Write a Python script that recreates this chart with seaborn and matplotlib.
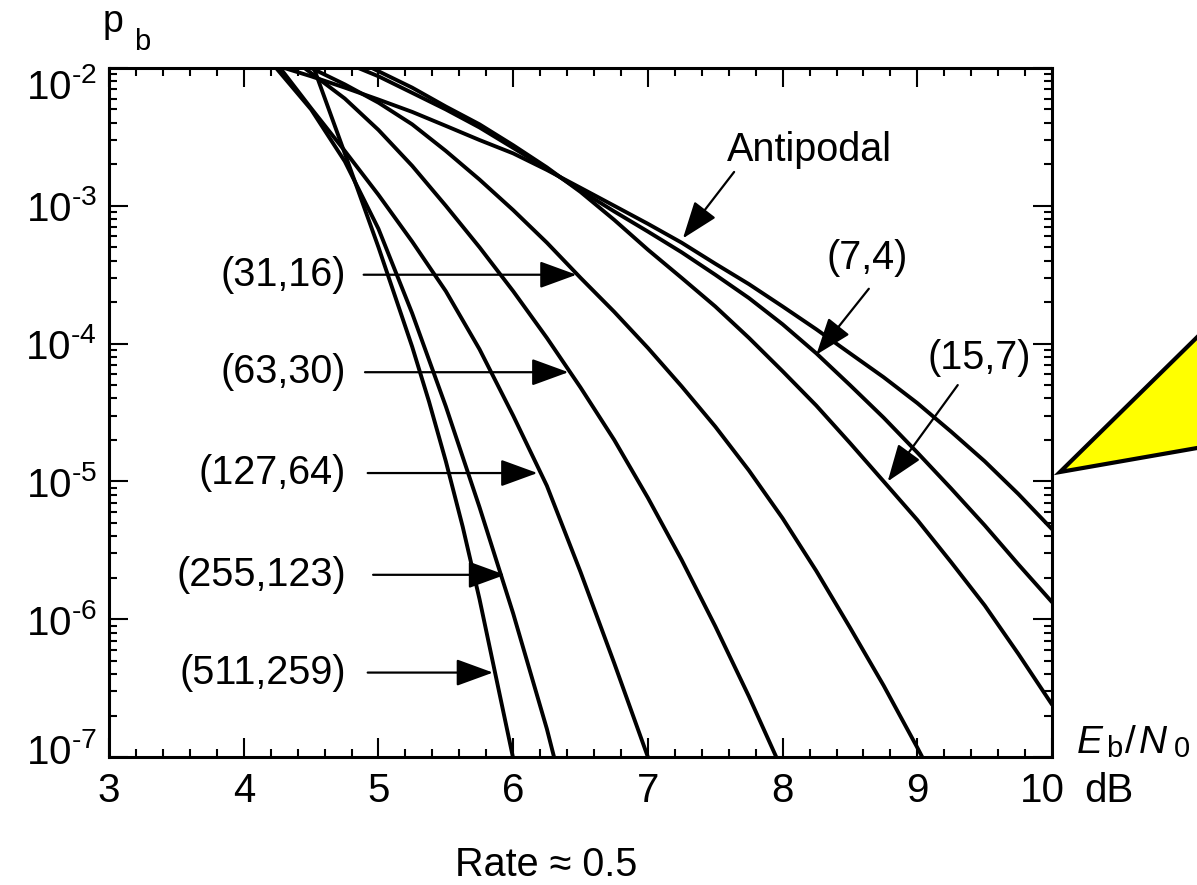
import numpy as np
import pandas as pd
import matplotlib
matplotlib.use('Agg')
import matplotlib.pyplot as plt
import matplotlib.transforms as mtransforms
from matplotlib.patches import Polygon
from matplotlib.ticker import LogLocator, NullFormatter, MultipleLocator
import seaborn as sns

sns.set_style('ticks')
plt.rcParams['font.family'] = ['Liberation Sans', 'DejaVu Sans']
plt.rcParams['mathtext.fontset'] = 'custom'
plt.rcParams['mathtext.rm'] = 'Liberation Sans'
plt.rcParams['mathtext.it'] = 'Liberation Sans:italic'
plt.rcParams['mathtext.default'] = 'regular'
plt.rcParams['text.color'] = 'black'
plt.rcParams['xtick.color'] = 'black'
plt.rcParams['ytick.color'] = 'black'

# Eb/N0 (dB) and bit error probability
antipodal_x = [4.3, 4.5, 4.75, 5.0, 5.25, 5.5, 5.75, 6.0, 6.25, 6.5, 6.75, 7.0,
               7.25, 7.5, 7.75, 8.0, 8.25, 8.5, 8.75, 9.0, 9.25, 9.5, 9.75, 10.0]
antipodal_pb = [1.0e-2, 8.7e-3, 7.2e-3, 5.9e-3, 4.8e-3, 3.8e-3, 3.0e-3, 2.4e-3,
                1.82e-3, 1.35e-3, 1.0e-3, 7.4e-4, 5.4e-4, 3.8e-4, 2.7e-4, 1.86e-4,
                1.27e-4, 8.5e-5, 5.7e-5, 3.7e-5, 2.3e-5, 1.4e-5, 8.1e-6, 4.5e-6]

c7_x = [4.85, 5.0, 5.25, 5.5, 5.75, 6.0, 6.25, 6.5, 6.75, 7.0, 7.25, 7.5,
        7.75, 8.0, 8.25, 8.5, 8.75, 9.0, 9.25, 9.5, 9.75, 10.0]
c7_pb = [1.0e-2, 8.7e-3, 6.6e-3, 5.0e-3, 3.7e-3, 2.63e-3, 1.86e-3, 1.29e-3,
         9.1e-4, 6.5e-4, 4.6e-4, 3.16e-4, 2.14e-4, 1.38e-4, 8.5e-5, 5.0e-5,
         2.9e-5, 1.62e-5, 8.9e-6, 4.8e-6, 2.5e-6, 1.33e-6]

c15_x = [4.95, 5.25, 5.5, 5.75, 6.0, 6.25, 6.5, 6.75, 7.0, 7.25, 7.5, 7.75,
         8.0, 8.25, 8.5, 8.75, 9.0, 9.25, 9.5, 9.75, 10.0]
c15_pb = [1.0e-2, 7.2e-3, 5.25e-3, 3.9e-3, 2.75e-3, 1.9e-3, 1.26e-3, 7.9e-4,
          4.8e-4, 3.0e-4, 1.86e-4, 1.1e-4, 6.3e-5, 3.55e-5, 1.9e-5, 1.0e-5,
          5.25e-6, 2.6e-6, 1.26e-6, 5.6e-7, 2.4e-7]

c31_x = [4.5, 4.75, 5.0, 5.25, 5.5, 5.75, 6.0, 6.25, 6.5, 6.75, 7.0, 7.25,
         7.5, 7.75, 8.0, 8.25, 8.5, 8.75, 9.0, 9.1]
c31_pb = [1.0e-2, 7.6e-3, 5.6e-3, 3.9e-3, 2.5e-3, 1.55e-3, 9.3e-4, 5.4e-4,
          3.0e-4, 1.7e-4, 9.3e-5, 4.9e-5, 2.5e-5, 1.2e-5, 5.4e-6, 2.24e-6,
          8.7e-7, 3.3e-7, 1.17e-7, 7.6e-8]

c63_x = [4.45, 4.75, 5.0, 5.25, 5.5, 5.75, 6.0, 6.25, 6.5, 6.75, 7.0, 7.25,
         7.5, 7.75, 8.0]
c63_pb = [1.0e-2, 6.0e-3, 3.55e-3, 1.95e-3, 1.0e-3, 5.0e-4, 2.4e-4, 1.1e-4,
          4.8e-5, 2.0e-5, 7.6e-6, 2.7e-6, 8.9e-7, 2.75e-7, 7.9e-8]

c127_x = [4.27, 4.5, 4.75, 5.0, 5.25, 5.5, 5.75, 6.0, 6.25, 6.5, 6.75, 7.0, 7.03]
c127_pb = [1.0e-2, 5.1e-3, 2.5e-3, 1.2e-3, 5.5e-4, 2.4e-4, 9.1e-5, 3.0e-5,
           9.3e-6, 2.2e-6, 4.8e-7, 1.0e-7, 7.9e-8]

c255_x = [4.24, 4.5, 4.75, 5.0, 5.25, 5.5, 5.75, 6.0, 6.25, 6.33]
c255_pb = [1.0e-2, 5.0e-3, 2.1e-3, 6.8e-4, 1.66e-4, 3.5e-5, 6.5e-6, 1.1e-6,
           1.6e-7, 7.9e-8]

c511_x = [4.52, 4.75, 5.0, 5.25, 5.375, 5.5, 5.625, 5.75, 5.875, 6.02]
c511_pb = [1.0e-2, 2.4e-3, 5.0e-4, 9.5e-5, 3.8e-5, 1.4e-5, 4.7e-6, 1.4e-6,
           3.7e-7, 7.9e-8]

curve_names = ['Antipodal', '(7,4)', '(15,7)', '(31,16)', '(63,30)',
               '(127,64)', '(255,123)', '(511,259)']
curve_x = [antipodal_x, c7_x, c15_x, c31_x, c63_x, c127_x, c255_x, c511_x]
curve_pb = [antipodal_pb, c7_pb, c15_pb, c31_pb, c63_pb, c127_pb, c255_pb, c511_pb]

# left-hand labels: text, arrow level, arrow tail x, arrow tip x
left_labels = ['(31,16)', '(63,30)', '(127,64)', '(255,123)', '(511,259)']
left_level = [3.16e-4, 6.2e-5, 1.15e-5, 2.1e-6, 4.1e-7]
left_tail = [4.89, 4.90, 4.92, 4.96, 4.92]
left_tip = [6.47, 6.41, 6.18, 5.94, 5.85]

# right-hand labels: text, text pos, arrow tail, arrow tip
right_labels = ['Antipodal', '(7,4)', '(15,7)']
right_text_xy = [(8.2, 2.54e-3), (8.63, 4.2e-4), (9.46, 7.9e-5)]
right_tail = [(7.64, 1.76e-3), (8.64, 2.5e-4), (9.30, 5.0e-5)]
right_tip = [(7.26, 5.8e-4), (8.25, 8.3e-5), (8.78, 1.0e-5)]

ytick_vals = [1e-7, 1e-6, 1e-5, 1e-4, 1e-3, 1e-2]
ytick_labels = [r'$10^{\text{-}7}$', r'$10^{\text{-}6}$', r'$10^{\text{-}5}$',
                r'$10^{\text{-}4}$', r'$10^{\text{-}3}$', r'$10^{\text{-}2}$']
xtick_vals = [3, 4, 5, 6, 7, 8, 9, 10]

df = pd.concat([pd.DataFrame({'code': n, 'ebn0': x, 'pb': y})
                for n, x, y in zip(curve_names, curve_x, curve_pb)],
               ignore_index=True)

fig = plt.figure(figsize=(11.97, 8.85), dpi=100)
ax = fig.add_axes([0.0911, 0.1446, 0.7878, 0.7786])

sns.lineplot(data=df, x='ebn0', y='pb', hue='code', palette=['black'] * len(curve_names),
             estimator=None, sort=False, legend=False, lw=2.8, ax=ax)

ax.set_yscale('log')
ax.set_xlim(3, 10)
ax.set_ylim(1e-7, 1e-2)
ax.set_xlabel('')
ax.set_ylabel('')

ax.set_xticks(xtick_vals)
ax.set_xticklabels([str(v) for v in xtick_vals])
ax.xaxis.set_minor_locator(MultipleLocator(0.2))
ax.set_yticks(ytick_vals)
ax.set_yticklabels(ytick_labels)
ax.yaxis.set_minor_locator(LogLocator(base=10, subs=np.arange(2, 10) * 1.0, numticks=20))
ax.yaxis.set_minor_formatter(NullFormatter())

ax.tick_params(which='both', direction='in', top=True, right=True, width=1.5, color='black')
ax.tick_params(which='major', length=14)
ax.tick_params(which='minor', length=6)
ax.tick_params(axis='x', labelsize=29, pad=11)
ax.tick_params(axis='y', labelsize=29, pad=9)
for s in ax.spines.values():
    s.set_linewidth(2.2)
    s.set_color('black')

# nudge end labels like in the original
yt = ax.yaxis.get_major_ticks()
yt[-1].label1.set_transform(yt[-1].label1.get_transform() +
                            mtransforms.ScaledTranslation(0, -0.16, fig.dpi_scale_trans))
yt[0].label1.set_transform(yt[0].label1.get_transform() +
                           mtransforms.ScaledTranslation(0, 0.09, fig.dpi_scale_trans))
xt = ax.xaxis.get_major_ticks()
xt[-1].label1.set_transform(xt[-1].label1.get_transform() +
                            mtransforms.ScaledTranslation(-0.10, 0, fig.dpi_scale_trans))

arrow_style = '-|>,head_length=1.15,head_width=0.42'
for lab, lev, t0, t1 in zip(left_labels, left_level, left_tail, left_tip):
    ax.text(4.76, lev, lab, ha='right', va='center', fontsize=28.5)
    ax.annotate('', xy=(t1, lev), xytext=(t0, lev),
                arrowprops=dict(arrowstyle=arrow_style, color='black', lw=1.6,
                                shrinkA=0, shrinkB=0, mutation_scale=20))

for lab, txy, tail, tip in zip(right_labels, right_text_xy, right_tail, right_tip):
    ax.text(txy[0], txy[1], lab, ha='center', va='center', fontsize=28.5)
    ax.annotate('', xy=tip, xytext=tail,
                arrowprops=dict(arrowstyle=arrow_style, color='black', lw=1.6,
                                shrinkA=0, shrinkB=0, mutation_scale=20))

# axis captions
fig.text(103 / 1197, 1 - 32 / 885, 'p', fontsize=27, va='baseline', ha='left')
fig.text(134 / 1197, 1 - 50 / 885, 'b', fontsize=21, va='baseline', ha='left')
fig.text(1077 / 1197, 1 - 753 / 885, 'E', fontsize=28, style='italic', va='baseline', ha='left')
fig.text(1106 / 1197, 1 - 757 / 885, 'b', fontsize=21, va='baseline', ha='left')
fig.text(1125 / 1197, 1 - 753 / 885, '/', fontsize=28, va='baseline', ha='left')
fig.text(1139 / 1197, 1 - 753 / 885, 'N', fontsize=28, style='italic', va='baseline', ha='left')
fig.text(1174 / 1197, 1 - 757 / 885, '0', fontsize=21, va='baseline', ha='left')
fig.text(1084 / 1197, 1 - 791 / 885, 'dB', fontsize=29, va='center', ha='left')
fig.text(546 / 1197, 1 - 865 / 885, 'Rate \u2248 0.5', fontsize=28.5, va='center', ha='center')

# yellow callout pointer
tri = Polygon([(1060 / 1197, 1 - 472 / 885), (1300 / 1197, 1 - 236 / 885),
               (1300 / 1197, 1 - 430 / 885)], closed=True, transform=fig.transFigure,
              facecolor='#ffff00', edgecolor='black', lw=3, clip_on=False)
fig.patches.append(tri)

fig.savefig('out.png', dpi=100)
